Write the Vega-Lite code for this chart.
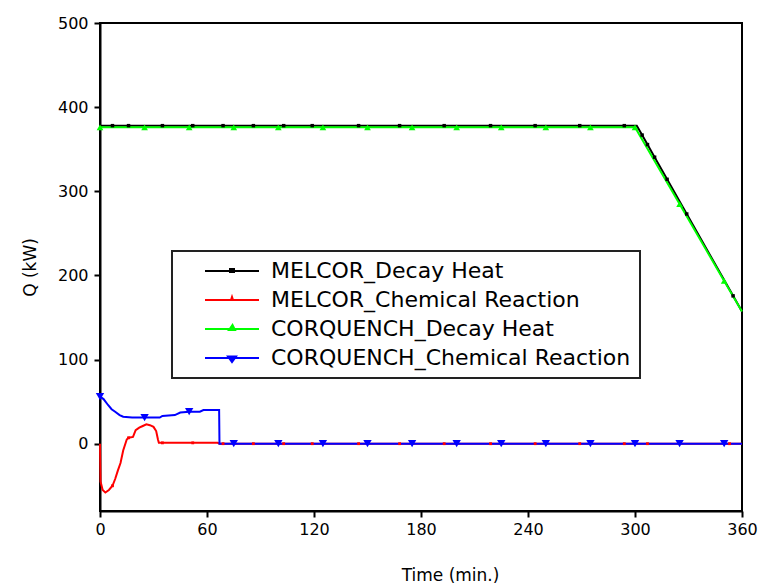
{
  "$schema": "https://vega.github.io/schema/vega-lite/v6.json",
  "width": 642,
  "height": 488,
  "autosize": {"type": "none"},
  "padding": {"left": 100, "top": 23, "right": 31, "bottom": 74},
  "background": "white",
  "config": {
    "view": {"stroke": "black", "strokeWidth": 2},
    "font": "DejaVu Sans"
  },
  "data": {
    "values": [
      {"s": "MELCOR_Decay Heat", "t": 0, "q": 378, "m": 0},
      {"s": "MELCOR_Decay Heat", "t": 7, "q": 378, "m": 1},
      {"s": "MELCOR_Decay Heat", "t": 16, "q": 378, "m": 1},
      {"s": "MELCOR_Decay Heat", "t": 35, "q": 378, "m": 1},
      {"s": "MELCOR_Decay Heat", "t": 52, "q": 378, "m": 1},
      {"s": "MELCOR_Decay Heat", "t": 69, "q": 378, "m": 1},
      {"s": "MELCOR_Decay Heat", "t": 86, "q": 378, "m": 1},
      {"s": "MELCOR_Decay Heat", "t": 103, "q": 378, "m": 1},
      {"s": "MELCOR_Decay Heat", "t": 119, "q": 378, "m": 1},
      {"s": "MELCOR_Decay Heat", "t": 145, "q": 378, "m": 1},
      {"s": "MELCOR_Decay Heat", "t": 168, "q": 378, "m": 1},
      {"s": "MELCOR_Decay Heat", "t": 193, "q": 378, "m": 1},
      {"s": "MELCOR_Decay Heat", "t": 219, "q": 378, "m": 1},
      {"s": "MELCOR_Decay Heat", "t": 244, "q": 378, "m": 1},
      {"s": "MELCOR_Decay Heat", "t": 269, "q": 378, "m": 1},
      {"s": "MELCOR_Decay Heat", "t": 294, "q": 378, "m": 1},
      {"s": "MELCOR_Decay Heat", "t": 301, "q": 378, "m": 0},
      {"s": "MELCOR_Decay Heat", "t": 304, "q": 366.8, "m": 1},
      {"s": "MELCOR_Decay Heat", "t": 307, "q": 355.5, "m": 1},
      {"s": "MELCOR_Decay Heat", "t": 311, "q": 340.5, "m": 1},
      {"s": "MELCOR_Decay Heat", "t": 318, "q": 314.2, "m": 1},
      {"s": "MELCOR_Decay Heat", "t": 329, "q": 273, "m": 1},
      {"s": "MELCOR_Decay Heat", "t": 355, "q": 175.7, "m": 1},
      {"s": "MELCOR_Decay Heat", "t": 360, "q": 157, "m": 0},

      {"s": "MELCOR_Chemical Reaction", "t": 0, "q": 0, "m": 0},
      {"s": "MELCOR_Chemical Reaction", "t": 0.3, "q": -45, "m": 0},
      {"s": "MELCOR_Chemical Reaction", "t": 1.5, "q": -55, "m": 0},
      {"s": "MELCOR_Chemical Reaction", "t": 3, "q": -58, "m": 0},
      {"s": "MELCOR_Chemical Reaction", "t": 5, "q": -55, "m": 0},
      {"s": "MELCOR_Chemical Reaction", "t": 7, "q": -50, "m": 1},
      {"s": "MELCOR_Chemical Reaction", "t": 8.5, "q": -42, "m": 0},
      {"s": "MELCOR_Chemical Reaction", "t": 10, "q": -32, "m": 0},
      {"s": "MELCOR_Chemical Reaction", "t": 11.5, "q": -23, "m": 0},
      {"s": "MELCOR_Chemical Reaction", "t": 13, "q": -8, "m": 0},
      {"s": "MELCOR_Chemical Reaction", "t": 15, "q": 5, "m": 0},
      {"s": "MELCOR_Chemical Reaction", "t": 16, "q": 7, "m": 1},
      {"s": "MELCOR_Chemical Reaction", "t": 18.5, "q": 8, "m": 0},
      {"s": "MELCOR_Chemical Reaction", "t": 20, "q": 16, "m": 0},
      {"s": "MELCOR_Chemical Reaction", "t": 22, "q": 19, "m": 0},
      {"s": "MELCOR_Chemical Reaction", "t": 24, "q": 21, "m": 0},
      {"s": "MELCOR_Chemical Reaction", "t": 26, "q": 23, "m": 0},
      {"s": "MELCOR_Chemical Reaction", "t": 28, "q": 22, "m": 0},
      {"s": "MELCOR_Chemical Reaction", "t": 30, "q": 20, "m": 0},
      {"s": "MELCOR_Chemical Reaction", "t": 31.5, "q": 15, "m": 0},
      {"s": "MELCOR_Chemical Reaction", "t": 32.5, "q": 5, "m": 0},
      {"s": "MELCOR_Chemical Reaction", "t": 33, "q": 1, "m": 0},
      {"s": "MELCOR_Chemical Reaction", "t": 35, "q": 1, "m": 1},
      {"s": "MELCOR_Chemical Reaction", "t": 52, "q": 1, "m": 1},
      {"s": "MELCOR_Chemical Reaction", "t": 66, "q": 1, "m": 0},
      {"s": "MELCOR_Chemical Reaction", "t": 67, "q": 0, "m": 0},
      {"s": "MELCOR_Chemical Reaction", "t": 69, "q": 0, "m": 1},
      {"s": "MELCOR_Chemical Reaction", "t": 86, "q": 0, "m": 1},
      {"s": "MELCOR_Chemical Reaction", "t": 103, "q": 0, "m": 1},
      {"s": "MELCOR_Chemical Reaction", "t": 119, "q": 0, "m": 1},
      {"s": "MELCOR_Chemical Reaction", "t": 145, "q": 0, "m": 1},
      {"s": "MELCOR_Chemical Reaction", "t": 168, "q": 0, "m": 1},
      {"s": "MELCOR_Chemical Reaction", "t": 193, "q": 0, "m": 1},
      {"s": "MELCOR_Chemical Reaction", "t": 219, "q": 0, "m": 1},
      {"s": "MELCOR_Chemical Reaction", "t": 244, "q": 0, "m": 1},
      {"s": "MELCOR_Chemical Reaction", "t": 269, "q": 0, "m": 1},
      {"s": "MELCOR_Chemical Reaction", "t": 294, "q": 0, "m": 1},
      {"s": "MELCOR_Chemical Reaction", "t": 307, "q": 0, "m": 1},
      {"s": "MELCOR_Chemical Reaction", "t": 353, "q": 0, "m": 1},
      {"s": "MELCOR_Chemical Reaction", "t": 360, "q": 0, "m": 0},

      {"s": "CORQUENCH_Decay Heat", "t": 0, "q": 376, "m": 1},
      {"s": "CORQUENCH_Decay Heat", "t": 25, "q": 376, "m": 1},
      {"s": "CORQUENCH_Decay Heat", "t": 50, "q": 376, "m": 1},
      {"s": "CORQUENCH_Decay Heat", "t": 75, "q": 376, "m": 1},
      {"s": "CORQUENCH_Decay Heat", "t": 100, "q": 376, "m": 1},
      {"s": "CORQUENCH_Decay Heat", "t": 125, "q": 376, "m": 1},
      {"s": "CORQUENCH_Decay Heat", "t": 150, "q": 376, "m": 1},
      {"s": "CORQUENCH_Decay Heat", "t": 175, "q": 376, "m": 1},
      {"s": "CORQUENCH_Decay Heat", "t": 200, "q": 376, "m": 1},
      {"s": "CORQUENCH_Decay Heat", "t": 225, "q": 376, "m": 1},
      {"s": "CORQUENCH_Decay Heat", "t": 250, "q": 376, "m": 1},
      {"s": "CORQUENCH_Decay Heat", "t": 275, "q": 376, "m": 1},
      {"s": "CORQUENCH_Decay Heat", "t": 300, "q": 376, "m": 1},
      {"s": "CORQUENCH_Decay Heat", "t": 325, "q": 284.8, "m": 1},
      {"s": "CORQUENCH_Decay Heat", "t": 350, "q": 193.5, "m": 1},
      {"s": "CORQUENCH_Decay Heat", "t": 360, "q": 157, "m": 0},

      {"s": "CORQUENCH_Chemical Reaction", "t": 0, "q": 56, "m": 1},
      {"s": "CORQUENCH_Chemical Reaction", "t": 2, "q": 53, "m": 0},
      {"s": "CORQUENCH_Chemical Reaction", "t": 4.5, "q": 46, "m": 0},
      {"s": "CORQUENCH_Chemical Reaction", "t": 6.5, "q": 41, "m": 0},
      {"s": "CORQUENCH_Chemical Reaction", "t": 8.5, "q": 38, "m": 0},
      {"s": "CORQUENCH_Chemical Reaction", "t": 11, "q": 34, "m": 0},
      {"s": "CORQUENCH_Chemical Reaction", "t": 13, "q": 32, "m": 0},
      {"s": "CORQUENCH_Chemical Reaction", "t": 18, "q": 31, "m": 0},
      {"s": "CORQUENCH_Chemical Reaction", "t": 25, "q": 31, "m": 1},
      {"s": "CORQUENCH_Chemical Reaction", "t": 33.5, "q": 31, "m": 0},
      {"s": "CORQUENCH_Chemical Reaction", "t": 35, "q": 33, "m": 0},
      {"s": "CORQUENCH_Chemical Reaction", "t": 42, "q": 34, "m": 0},
      {"s": "CORQUENCH_Chemical Reaction", "t": 45, "q": 37, "m": 0},
      {"s": "CORQUENCH_Chemical Reaction", "t": 50, "q": 38, "m": 1},
      {"s": "CORQUENCH_Chemical Reaction", "t": 56, "q": 38, "m": 0},
      {"s": "CORQUENCH_Chemical Reaction", "t": 58, "q": 40, "m": 0},
      {"s": "CORQUENCH_Chemical Reaction", "t": 66.8, "q": 40, "m": 0},
      {"s": "CORQUENCH_Chemical Reaction", "t": 67, "q": 0, "m": 0},
      {"s": "CORQUENCH_Chemical Reaction", "t": 75, "q": 0, "m": 1},
      {"s": "CORQUENCH_Chemical Reaction", "t": 100, "q": 0, "m": 1},
      {"s": "CORQUENCH_Chemical Reaction", "t": 125, "q": 0, "m": 1},
      {"s": "CORQUENCH_Chemical Reaction", "t": 150, "q": 0, "m": 1},
      {"s": "CORQUENCH_Chemical Reaction", "t": 175, "q": 0, "m": 1},
      {"s": "CORQUENCH_Chemical Reaction", "t": 200, "q": 0, "m": 1},
      {"s": "CORQUENCH_Chemical Reaction", "t": 225, "q": 0, "m": 1},
      {"s": "CORQUENCH_Chemical Reaction", "t": 250, "q": 0, "m": 1},
      {"s": "CORQUENCH_Chemical Reaction", "t": 275, "q": 0, "m": 1},
      {"s": "CORQUENCH_Chemical Reaction", "t": 300, "q": 0, "m": 1},
      {"s": "CORQUENCH_Chemical Reaction", "t": 325, "q": 0, "m": 1},
      {"s": "CORQUENCH_Chemical Reaction", "t": 350, "q": 0, "m": 1},
      {"s": "CORQUENCH_Chemical Reaction", "t": 360, "q": 0, "m": 0}
    ]
  },
  "encoding": {
    "x": {
      "field": "t", "type": "quantitative",
      "scale": {"domain": [0, 360], "nice": false, "zero": false},
      "axis": {
        "title": "Time (min.)",
        "values": [0, 60, 120, 180, 240, 300, 360],
        "ticks": true,
        "tickSize": 6,
        "tickColor": "black", "tickWidth": 2,
        "grid": false,
        "domainColor": "black", "domainWidth": 2,
        "labelFont": "DejaVu Sans", "labelFontSize": 16, "labelColor": "black",
        "labelPadding": 4, "labelFlush": false, "labelOverlap": false,
        "titleFont": "DejaVu Sans", "titleFontSize": 17, "titleFontWeight": "normal", "titleColor": "black",
        "titlePadding": 30, "titleX": 350
      }
    },
    "y": {
      "field": "q", "type": "quantitative",
      "scale": {"domain": [-80, 500], "nice": false, "zero": false},
      "axis": {
        "title": "Q (kW)",
        "values": [0, 100, 200, 300, 400, 500],
        "ticks": true,
        "tickSize": 6,
        "tickColor": "black", "tickWidth": 2,
        "grid": false,
        "domainColor": "black", "domainWidth": 2,
        "labelFont": "DejaVu Sans", "labelFontSize": 16, "labelColor": "black",
        "labelPadding": 6, "labelFlush": false, "labelOverlap": false,
        "titleFont": "DejaVu Sans", "titleFontSize": 17, "titleFontWeight": "normal", "titleColor": "black",
        "titlePadding": 18
      }
    },
    "color": {
      "field": "s", "type": "nominal",
      "scale": {
        "domain": ["MELCOR_Decay Heat", "MELCOR_Chemical Reaction", "CORQUENCH_Decay Heat", "CORQUENCH_Chemical Reaction"],
        "range": ["#000000", "#ff0000", "#00ff00", "#0000ff"]
      },
      "legend": {
        "title": null,
        "orient": "none",
        "legendX": 72,
        "legendY": 228,
        "padding": 9,
        "strokeColor": "black",
        "fillColor": "white",
        "symbolSize": 400,
        "symbolOffset": 40,
        "symbolStrokeWidth": 2,
        "labelOffset": 28,
        "rowPadding": 7,
        "labelFont": "DejaVu Sans",
        "labelFontSize": 22,
        "labelColor": "black",
        "labelLimit": 0,
        "encode": {
          "legend": {"update": {"stroke": {"value": "#222222"}, "strokeWidth": {"value": 2}}},
          "symbols": {
            "update": {
              "shape": {"signal": "datum.value === 'MELCOR_Decay Heat' ? 'M-2.7,0H2.7M-0.2,-0.2H0.2V0.1H-0.2Z' : datum.value === 'MELCOR_Chemical Reaction' ? 'M-2.7,0H2.7M-0.1,0L0,-0.3L0.1,0Z' : datum.value === 'CORQUENCH_Decay Heat' ? 'M-2.7,0H2.7M-0.3,0.1L0.05,-0.4L0.3,0.1Z' : 'M-2.7,0H2.7M-0.4,-0.15H0.4L0,0.4Z'"},
              "fill": {"signal": "scale('color', datum.value)"},
              "stroke": {"signal": "scale('color', datum.value)"},
              "strokeWidth": {"value": 2},
              "opacity": {"value": 1}
            }
          }
        }
      }
    }
  },
  "layer": [
    {"transform": [{"filter": "datum.s === 'MELCOR_Decay Heat'"}], "mark": {"type": "line", "strokeWidth": 2}},
    {"transform": [{"filter": "datum.s === 'MELCOR_Chemical Reaction'"}], "mark": {"type": "line", "strokeWidth": 2}},
    {"transform": [{"filter": "datum.s === 'CORQUENCH_Decay Heat'"}], "mark": {"type": "line", "strokeWidth": 2}},
    {"transform": [{"filter": "datum.s === 'CORQUENCH_Chemical Reaction'"}], "mark": {"type": "line", "strokeWidth": 2}},
    {"transform": [{"filter": "datum.m === 1 && datum.s === 'MELCOR_Decay Heat'"}], "mark": {"type": "point", "filled": true, "opacity": 1, "shape": "square", "size": 12}},
    {"transform": [{"filter": "datum.m === 1 && datum.s === 'MELCOR_Chemical Reaction'"}], "mark": {"type": "point", "filled": true, "opacity": 1, "shape": "square", "size": 8}},
    {"transform": [{"filter": "datum.m === 1 && datum.s === 'CORQUENCH_Decay Heat'"}], "mark": {"type": "point", "filled": true, "opacity": 1, "shape": "triangle-up", "size": 45}},
    {"transform": [{"filter": "datum.m === 1 && datum.s === 'CORQUENCH_Chemical Reaction'"}], "mark": {"type": "point", "filled": true, "opacity": 1, "shape": "triangle-down", "size": 70}}
  ]
}
